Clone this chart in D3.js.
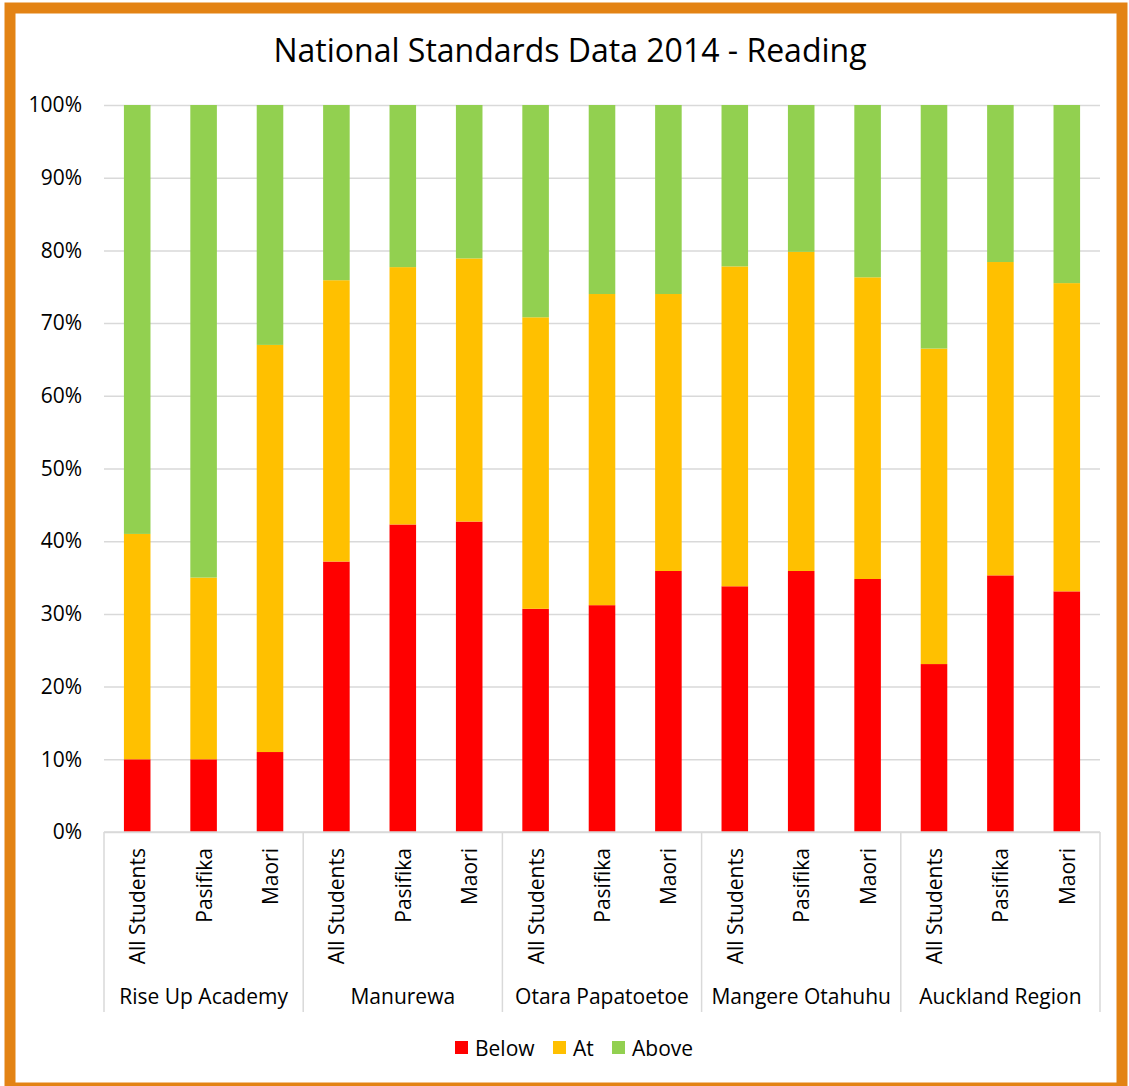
<!DOCTYPE html>
<html>
<head>
<meta charset="utf-8">
<script src="https://cdn.jsdelivr.net/npm/d3@7"></script>
<style>
  body { margin: 0; background: #fff; }
  text { font-family: "Open Sans", "Noto Sans", sans-serif; fill: #000; }
</style>
</head>
<body>
<div id="chart"></div>
<script>
// groups and sub-categories
const groups = ["Rise Up Academy", "Manurewa", "Otara Papatoetoe", "Mangere Otahuhu", "Auckland Region"];
const subgroups = ["All Students", "Pasifika", "Maori"];

// percentages per bar (group order, then subgroup order)
const below = [10, 10, 11, 37.2, 42.3, 42.7, 30.7, 31.2, 35.9, 33.8, 35.9, 34.8, 23.1, 35.3, 33.1];
const at    = [31, 25, 56, 38.7, 35.4, 36.2, 40.1, 42.8, 38.1, 44.0, 43.9, 41.5, 43.4, 43.1, 42.4];
const above = [59, 65, 33, 24.1, 22.3, 21.1, 29.2, 26.0, 26.0, 22.2, 20.2, 23.7, 33.5, 21.6, 24.5];

const seriesNames = ["Below", "At", "Above"];
const colors = ["#ff0000", "#ffc000", "#92d050"];
const yTicks = [0, 10, 20, 30, 40, 50, 60, 70, 80, 90, 100];

const width = 1129, height = 1086;
const margin = {top: 105, right: 29, bottom: 254, left: 104};

// build rows for the stack
const rows = [];
groups.forEach((g, gi) => {
    subgroups.forEach((s, si) => {
        const i = gi * subgroups.length + si;
        rows.push({key: g + "|" + s, group: g, sub: s, Below: below[i], At: at[i], Above: above[i]});
    });
});

const stacked = d3.stack().keys(seriesNames)(rows);

const svg = d3.select("#chart")
    .append("svg")
    .attr("width", width)
    .attr("height", height);

// orange frame
svg.append("rect")
    .attr("x", 10).attr("y", 8)
    .attr("width", 1112).attr("height", 1080)
    .attr("fill", "#fff")
    .attr("stroke", "#e38314")
    .attr("stroke-width", 11);

const x = d3.scaleBand()
    .domain(rows.map(d => d.key))
    .range([margin.left, width - margin.right])
    .paddingInner(0.6)
    .paddingOuter(0.3);

const y = d3.scaleLinear()
    .domain([0, 100])
    .range([height - margin.bottom, margin.top]);

// title
svg.append("text")
    .attr("x", 570).attr("y", 62)
    .attr("text-anchor", "middle")
    .attr("font-size", 32)
    .text("National Standards Data 2014 - Reading");

// gridlines + y labels
svg.append("g")
    .attr("transform", `translate(${margin.left},0)`)
    .call(d3.axisLeft(y).tickValues(yTicks).tickSize(-(width - margin.left - margin.right)).tickFormat(d => d + "%"))
    .call(g => g.select(".domain").remove())
    .call(g => g.selectAll(".tick line").attr("stroke", "#d9d9d9").attr("stroke-width", 1.5))
    .call(g => g.selectAll(".tick text").attr("x", -22).attr("font-size", 21).attr("font-family", "Open Sans, sans-serif").attr("fill", "#000"));

// bars
svg.append("g")
    .selectAll("g")
    .data(stacked)
    .join("g")
    .attr("fill", (d, i) => colors[i])
    .selectAll("rect")
    .data(d => d)
    .join("rect")
    .attr("x", d => x(d.data.key))
    .attr("y", d => y(d[1]))
    .attr("width", x.bandwidth())
    .attr("height", d => y(d[0]) - y(d[1]));

// x axis: two-level categories
const x0 = height - margin.bottom;
const groupX = d3.scaleBand()
    .domain(groups)
    .range([margin.left, width - margin.right]);

svg.append("line")
    .attr("x1", margin.left).attr("x2", width - margin.right)
    .attr("y1", x0).attr("y2", x0)
    .attr("stroke", "#d9d9d9").attr("stroke-width", 1.5);

const sepX = groups.map(g => groupX(g)).concat([width - margin.right]);
svg.append("g")
    .selectAll("line")
    .data(sepX)
    .join("line")
    .attr("x1", d => d).attr("x2", d => d)
    .attr("y1", x0).attr("y2", 1012)
    .attr("stroke", "#d9d9d9").attr("stroke-width", 1.5);

svg.append("g")
    .selectAll("text")
    .data(rows)
    .join("text")
    .attr("transform", d => `translate(${x(d.key) + x.bandwidth() / 2 + 8},848) rotate(-90)`)
    .attr("text-anchor", "end")
    .attr("font-size", 21)
    .text(d => d.sub);

svg.append("g")
    .selectAll("text")
    .data(groups)
    .join("text")
    .attr("x", d => groupX(d) + groupX.bandwidth() / 2)
    .attr("y", 1004)
    .attr("text-anchor", "middle")
    .attr("font-size", 21)
    .text(d => d);

// legend
const legendX = [455, 553, 612];
const legend = svg.append("g");
seriesNames.forEach((s, i) => {
    legend.append("rect")
        .attr("x", legendX[i]).attr("y", 1041)
        .attr("width", 13).attr("height", 13)
        .attr("fill", colors[i]);
    legend.append("text")
        .attr("x", legendX[i] + 20).attr("y", 1056)
        .attr("font-size", 21)
        .text(s);
});
</script>
</body>
</html>
